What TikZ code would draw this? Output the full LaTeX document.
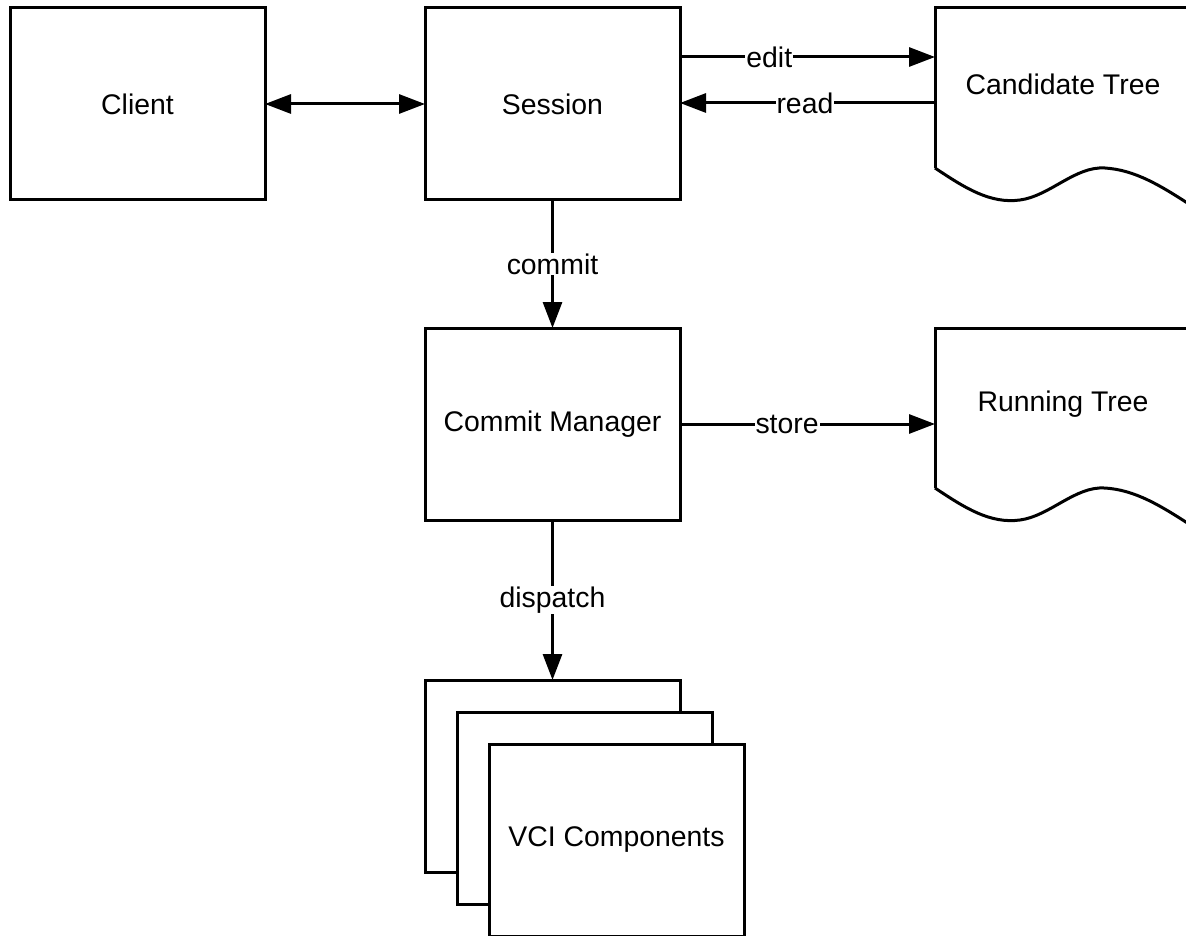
\documentclass[tikz,border=0pt]{standalone}
\usepackage{fontspec}
\setmainfont{Liberation Sans}
\usetikzlibrary{arrows.meta}
\begin{document}
\begin{tikzpicture}[x=1pt,y=-1pt,
  every node/.style={font=\fontsize{28.4}{32}\selectfont},
  box/.style={draw,line width=3pt,fill=white,minimum width=255pt,minimum height=192pt,inner sep=0pt,outer sep=0pt,anchor=north west},
  docnode/.style={minimum width=256pt,minimum height=192pt,inner sep=0pt,outer sep=0pt,anchor=north west},
  doc/.style={line width=3pt},
  conn/.style={line width=3pt,-{Triangle[length=26pt,width=19pt]}},
  lbl/.style={fill=white,inner sep=1pt}]
\useasboundingbox (0,0) rectangle (1186,936);
\clip (0,0) rectangle (1186,936);
% boxes
\node[box] (client) at (10,8) {Client};
\node[box] (session) at (425,8) {Session};
\node[box] (cm) at (425,328) {Commit Manager};
\node[box] (vci1) at (425,680) {};
\node[box] (vci2) at (457,712) {};
\node[box] (vci3) at (489,744) {VCI Components};
% documents
\node[docnode] (cand) at (935,8) {};
\node[anchor=center] (candt) at (1063,84) {Candidate Tree};
\draw[doc] (935,168) -- (935,8) -- (1195,8);
\draw[doc] (935,168) .. controls (965,188) and (990,204) .. (1020,200) .. controls (1050,196) and (1075,166) .. (1105,168) .. controls (1135,170) and (1160,185) .. (1195,208);
\node[docnode] (run) at (935,328) {};
\node[anchor=center] (runt) at (1063,404) {Running Tree};
\draw[doc] (935,488) -- (935,328) -- (1195,328);
\draw[doc] (935,488) .. controls (965,508) and (990,524) .. (1020,520) .. controls (1050,516) and (1075,486) .. (1105,488) .. controls (1135,490) and (1160,505) .. (1195,528);
% connectors
\draw[line width=3pt,{Triangle[length=26pt,width=19pt]}-{Triangle[length=26pt,width=19pt]}] (client.east) -- (session.west);
\draw[conn] (session.north east |- 0,57) -- node[lbl,pos=0.35] {edit} (cand.west |- 0,57);
\draw[conn] (cand.west |- 0,103) -- node[lbl,pos=0.51] {read} (session.east |- 0,103);
\draw[conn] (session.south) -- node[lbl,pos=0.5] {commit} (cm.north);
\draw[conn] (cm.east) -- node[lbl,pos=0.42] {store} (run.west |- cm.east);
\draw[conn] (cm.south) -- node[lbl,pos=0.5] {dispatch} (vci1.north -| cm.south);
\end{tikzpicture}
\end{document}
